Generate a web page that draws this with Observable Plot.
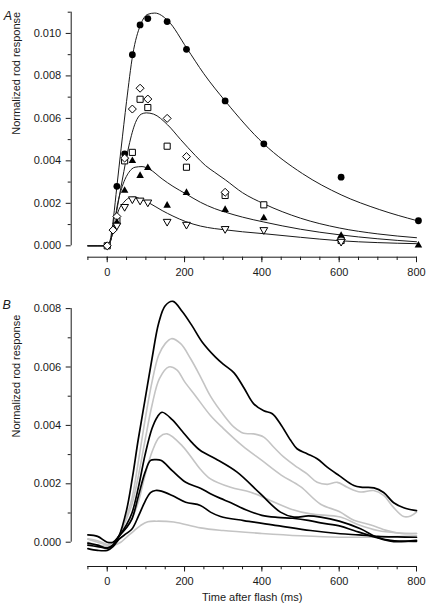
<!DOCTYPE html>
<html><head><meta charset="utf-8">
<script src="https://cdn.jsdelivr.net/npm/d3@7"></script>
<script src="https://cdn.jsdelivr.net/npm/@observablehq/plot@0.6"></script>
<style>
body{margin:0;background:#fff;}
#wrap{width:429px;height:609px;}
#wrap svg{display:block;}
</style></head><body><div id="wrap"></div>
<script>
// ---------- shared axis data ----------
const xDomain = [-50, 800];
const xMajorTicks = [0, 200, 400, 600, 800];
const xMinorTicks = [-50, 0, 50, 100, 150, 200, 250, 300, 350, 400, 450, 500, 550, 600, 650, 700, 750, 800];
const xTitle = "Time after flash (ms)";
const yTitle = "Normalized rod response";

// ---------- panel A ----------
const yDomainA = [0, 0.011];
const yMajorTicksA = [0, 0.002, 0.004, 0.006, 0.008, 0.010];
const yMinorTicksA = [0.001, 0.003, 0.005, 0.007, 0.009, 0.011];

// measured points [time ms, response]
const circlesA = [[25,0.0028],[45,0.00433],[65,0.0090],[85,0.0104],[105,0.0107],[155,0.01056],[205,0.00925],[305,0.00682],[405,0.0048],[605,0.00323],[805,0.00118]];
const squaresA = [[0,0],[25,0.00118],[45,0.0040],[65,0.0044],[85,0.0069],[105,0.00651],[155,0.00469],[205,0.0037],[305,0.00237],[405,0.00193],[605,0.00025]];
const diamondsA = [[0,0],[15,0.00074],[25,0.00138],[45,0.00413],[65,0.00644],[85,0.00742],[105,0.00691],[155,0.006],[205,0.0042],[305,0.00252],[605,0.0003]];
const trianglesA = [[25,0.0011],[45,0.0026],[65,0.004],[85,0.0033],[105,0.00367],[155,0.0019],[205,0.0025],[305,0.0017],[405,0.0013],[605,0.00048],[805,0.00002]];
const invTrianglesA = [[25,0.00096],[45,0.00184],[65,0.0022],[85,0.00214],[105,0.00205],[155,0.00114],[205,0.001],[305,0.0008],[405,0.00075],[605,0.0002]];

// fitted curves
const fitA1 = [[-50,0],[0,0],[8,0.0003],[16,0.0013],[25,0.0028],[36,0.0046],[50,0.0068],[66,0.009],[86,0.0104],[105,0.0109],[123,0.01096],[157,0.0106],[206,0.0093],[250,0.0081],[306,0.0068],[405,0.0048],[505,0.0034],[605,0.0024],[705,0.0017],[800,0.00119]];
const fitA2 = [[-50,0],[0,0],[8,0.0002],[17,0.0009],[30,0.0022],[43,0.0035],[56,0.0047],[73,0.0058],[88,0.0062],[101,0.00626],[120,0.0062],[156,0.0057],[190,0.005],[228,0.00425],[254,0.00378],[278,0.00346],[306,0.0031],[350,0.0025],[405,0.00198],[500,0.0013],[600,0.00084],[700,0.00056],[800,0.00038]];
const fitA3 = [[-50,0],[0,0],[8,0.0002],[17,0.0009],[26,0.0019],[39,0.0028],[56,0.00346],[72,0.0037],[90,0.00373],[110,0.0036],[142,0.00315],[170,0.0028],[203,0.00245],[241,0.00205],[278,0.00175],[306,0.00158],[350,0.00135],[405,0.00112],[500,0.00078],[600,0.00052],[700,0.00033],[800,0.00019]];
const fitA4 = [[-50,0],[0,0],[8,0.0002],[17,0.0009],[30,0.0017],[43,0.00205],[55,0.00224],[69,0.00229],[90,0.00218],[110,0.002],[142,0.00166],[170,0.0014],[203,0.00114],[241,0.00093],[278,0.00081],[306,0.00075],[350,0.00066],[405,0.00057],[500,0.0004],[600,0.00024],[700,0.00015],[800,0.0001]];

// ---------- panel B ----------
const yDomainB = [0, 0.008];
const yMajorTicksB = [0, 0.002, 0.004, 0.006, 0.008];
const yMinorTicksB = [0.001, 0.003, 0.005, 0.007];

const blackB1 = [[-50,-0.0001],[-25,-0.00015],[0,-0.0002],[15,-0.0001],[30,0.0002],[50,0.0011],[65,0.0022],[80,0.0035],[98,0.0049],[116,0.0063],[133,0.0075],[150,0.0081],[170,0.00825],[194,0.0079],[220,0.0074],[246,0.00685],[280,0.00634],[300,0.0061],[328,0.0058],[353,0.0053],[379,0.00474],[405,0.0045],[427,0.0044],[448,0.00405],[474,0.0035],[491,0.0032],[517,0.00303],[543,0.00286],[569,0.00257],[600,0.00228],[638,0.00194],[660,0.00188],[690,0.00186],[715,0.0017],[741,0.00135],[767,0.00118],[800,0.00108]];
const grayB1 = [[-50,0],[-25,-0.0001],[0,-0.00015],[15,-0.0001],[30,0.0002],[50,0.0009],[64,0.0015],[81,0.0028],[98,0.0042],[116,0.0055],[133,0.0064],[150,0.0068],[166,0.00697],[190,0.0068],[215,0.0063],[240,0.0057],[267,0.005],[302,0.00434],[328,0.00394],[353,0.00373],[379,0.00371],[405,0.0036],[431,0.00325],[457,0.00291],[491,0.00257],[517,0.00234],[543,0.00205],[569,0.00198],[595,0.00205],[621,0.00188],[655,0.00172],[689,0.00177],[715,0.0016],[740,0.0012],[767,0.00088],[785,0.0009],[800,0.00103]];
const grayB2 = [[-50,-0.00005],[-25,-0.0001],[0,-0.00015],[15,-0.0001],[30,0.0002],[50,0.0008],[64,0.0013],[81,0.0023],[98,0.0035],[116,0.0047],[135,0.0056],[159,0.006],[180,0.0059],[200,0.0055],[229,0.005],[267,0.00434],[300,0.0039],[350,0.0033],[400,0.0028],[450,0.0023],[500,0.0019],[552,0.0013],[600,0.00105],[638,0.00075],[680,0.0006],[724,0.0004],[760,0.0003],[800,0.0003]];
const blackB2 = [[-50,0.00025],[-25,0.0002],[0,0],[15,0],[30,0.0002],[50,0.0006],[64,0.001],[81,0.0019],[98,0.003],[116,0.0039],[130,0.0043],[142,0.00445],[168,0.0042],[194,0.0038],[220,0.0034],[241,0.00314],[280,0.00286],[336,0.0024],[396,0.00166],[448,0.00103],[483,0.00086],[520,0.0009],[552,0.00086],[600,0.00072],[655,0.00046],[698,0.00017],[733,0.00006],[800,0.00003]];
const grayB3 = [[-50,0.0001],[-25,0],[0,-0.0001],[15,-0.00005],[30,0.0002],[50,0.0005],[64,0.0008],[81,0.0014],[98,0.0023],[116,0.0031],[135,0.0036],[155,0.00371],[194,0.0033],[229,0.0027],[241,0.0025],[267,0.00217],[319,0.00188],[371,0.00171],[422,0.00143],[474,0.00114],[526,0.00097],[603,0.00086],[650,0.0006],[700,0.0004],[750,0.00032],[800,0.0003]];
const blackB3 = [[-50,-0.00003],[-25,-0.0001],[0,-0.0002],[15,-0.0001],[30,0.0002],[50,0.0005],[64,0.0008],[81,0.0016],[98,0.0024],[112,0.0028],[125,0.00283],[140,0.0028],[168,0.00245],[203,0.00205],[241,0.00185],[267,0.00166],[293,0.0015],[320,0.00135],[360,0.0011],[400,0.00092],[440,0.00085],[480,0.00082],[520,0.00075],[552,0.00066],[603,0.00055],[638,0.0004],[707,0.00012],[741,0.00002],[800,0.00006]];
const blackB4 = [[-50,-0.00022],[-25,-0.00028],[0,-0.00028],[15,-0.00015],[30,0.0001],[50,0.0003],[64,0.00045],[81,0.0009],[98,0.0014],[112,0.0017],[125,0.00177],[140,0.00175],[168,0.0016],[203,0.00137],[241,0.00126],[267,0.00103],[293,0.00088],[353,0.00074],[440,0.00057],[526,0.0004],[603,0.00029],[650,0.00025],[700,0.0002],[750,0.00018],[800,0.00017]];
const grayB4 = [[-50,0.00012],[-25,0.00005],[0,-0.00008],[17,-0.0001],[35,0],[50,0.00017],[70,0.0004],[86,0.00057],[105,0.0007],[128,0.00072],[172,0.00069],[241,0.00049],[300,0.0004],[400,0.0003],[500,0.00022],[600,0.00017],[700,0.00018],[800,0.00022]];

const grayTraces = [grayB1, grayB2, grayB3, grayB4];
const blackTraces = [blackB1, blackB2, blackB3, blackB4];

// ---------- styling / layout ----------
const FONT = "'Liberation Sans', Arial, Helvetica, sans-serif";
const INK = "#1a1a1a";
const GRAY = "#c4c4c4";
const W = 429;
const fmt3 = d3.format(".3f");
const X = d => d[0], Y = d => d[1];

function axes({yDomain, yMajor, yMinor, insetLeft, insetBottom}) {
  return [
    Plot.ruleY([yDomain[0]], {x1: xDomain[0], x2: xDomain[1], dy: insetBottom, stroke: INK, strokeWidth: 1}),
    Plot.ruleX([xDomain[0]], {y1: yDomain[0], y2: yDomain[1], dx: -insetLeft, stroke: INK, strokeWidth: 1}),
    Plot.axisX(xMajorTicks, {tickSize: 5.5, tickPadding: 5, stroke: INK, fill: INK, label: null}),
    Plot.axisX(xMinorTicks, {tickSize: 3.3, stroke: INK, fill: "none", label: null}),
    Plot.axisY(yMajor, {tickSize: 5, tickPadding: 5, tickFormat: fmt3, stroke: INK, fill: INK, label: null}),
    Plot.axisY(yMinor, {tickSize: 3, stroke: INK, fill: "none", label: null})
  ];
}

const styleObj = {fontFamily: FONT, fontSize: "11px", color: INK, background: "white", overflow: "visible"};

// Panel A
const insetLeft = 16.7;
const insetBottomA = 11.4;
const plotA = Plot.plot({
  width: W, height: 285,
  marginLeft: 70.7, marginRight: 13, marginTop: 11.7, marginBottom: 28.3,
  insetLeft, insetBottom: insetBottomA,
  x: {domain: xDomain, label: null},
  y: {domain: yDomainA, label: null},
  style: styleObj,
  marks: [
    ...axes({yDomain: yDomainA, yMajor: yMajorTicksA, yMinor: yMinorTicksA, insetLeft, insetBottom: insetBottomA}),
    ...[fitA1, fitA2, fitA3, fitA4].map(f => Plot.line(f, {x: X, y: Y, curve: "monotone-x", stroke: INK, strokeWidth: 1})),
    Plot.dot(circlesA, {x: X, y: Y, symbol: "circle", r: 3.4, fill: "black", stroke: "none"}),
    Plot.dot(squaresA, {x: X, y: Y, symbol: "square2", r: 3.9, fill: "white", stroke: "black", strokeWidth: 1}),
    Plot.dot(diamondsA, {x: X, y: Y, symbol: "diamond2", r: 3.6, fill: "white", stroke: "black", strokeWidth: 1}),
    Plot.dot(trianglesA, {x: X, y: Y, symbol: "triangle2", r: 3.6, fill: "black", stroke: "none"}),
    Plot.dot(invTrianglesA, {x: X, y: Y, symbol: "triangle2", r: 3.7, rotate: 180, fill: "white", stroke: "black", strokeWidth: 1}),
    Plot.text([yTitle], {frameAnchor: "left", dx: -55.2, rotate: -90, fill: INK, fontSize: 11}),
    Plot.text(["A"], {frameAnchor: "top-left", dx: -67.4, dy: -1.5, textAnchor: "start", fontSize: 12.5, fontStyle: "italic", fill: INK})
  ]
});

// Panel B
const insetBottomB = 24.3;
const plotB = Plot.plot({
  width: W, height: 324,
  marginLeft: 70.7, marginRight: 13, marginTop: 23.1, marginBottom: 43,
  insetLeft, insetBottom: insetBottomB,
  x: {domain: xDomain, label: null},
  y: {domain: yDomainB, label: null},
  style: styleObj,
  marks: [
    ...axes({yDomain: yDomainB, yMajor: yMajorTicksB, yMinor: yMinorTicksB, insetLeft, insetBottom: insetBottomB}),
    ...grayTraces.map(t => Plot.line(t, {x: X, y: Y, curve: "catmull-rom", stroke: GRAY, strokeWidth: 1.6})),
    ...blackTraces.map(t => Plot.line(t, {x: X, y: Y, curve: "catmull-rom", stroke: "black", strokeWidth: 1.7})),
    Plot.text([yTitle], {frameAnchor: "left", dx: -55.2, rotate: -90, fill: INK, fontSize: 11}),
    Plot.text([xTitle], {x: (xDomain[0] + xDomain[1]) / 2, frameAnchor: "bottom", dy: 34, fill: INK, fontSize: 11}),
    Plot.text(["B"], {frameAnchor: "top-left", dx: -68.7, dy: -8.6, textAnchor: "start", fontSize: 12.5, fontStyle: "italic", fill: INK})
  ]
});

const wrap = document.getElementById("wrap");
wrap.appendChild(plotA);
wrap.appendChild(plotB);
</script>
</body></html>
